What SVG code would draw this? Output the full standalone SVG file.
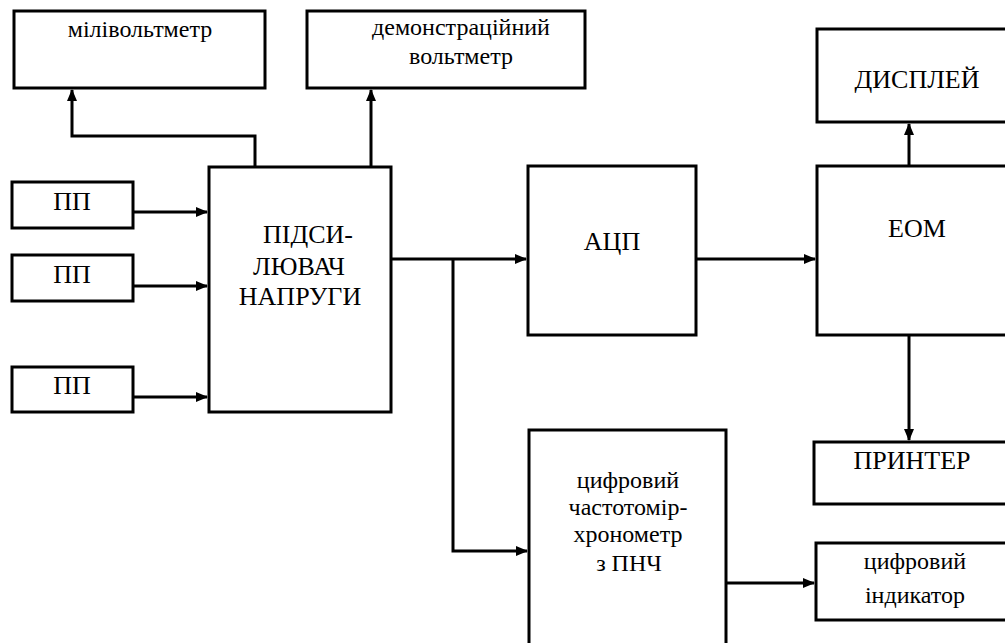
<svg xmlns="http://www.w3.org/2000/svg" width="1005" height="643" viewBox="0 0 1005 643">
<style>
.box{fill:#fff;stroke:#000;stroke-width:3}
.t{font-family:'Liberation Serif','Times New Roman',serif;font-size:24px;fill:#000;text-anchor:middle}
.u{font-size:26px}
.c{fill:none;stroke:#000;stroke-width:3}
</style>
<defs>
<marker id="ah" markerWidth="12" markerHeight="10" refX="11" refY="5" orient="auto" markerUnits="userSpaceOnUse">
<path d="M0,0 L12,5 L0,10 Z" fill="#000"/>
</marker>
</defs>
<rect width="1005" height="643" fill="#fff"/>
<g id="connectors">
<path class="c" d="M255,166 V136 H72 V90" marker-end="url(#ah)"/>
<path class="c" d="M371,166 V90" marker-end="url(#ah)"/>
<path class="c" d="M133,212 H207" marker-end="url(#ah)"/>
<path class="c" d="M133,286 H207" marker-end="url(#ah)"/>
<path class="c" d="M133,397 H207" marker-end="url(#ah)"/>
<path class="c" d="M391,259 H526" marker-end="url(#ah)"/>
<path class="c" d="M453,259 V551 H527" marker-end="url(#ah)"/>
<path class="c" d="M696,259 H815" marker-end="url(#ah)"/>
<path class="c" d="M909,166 V124" marker-end="url(#ah)"/>
<path class="c" d="M909,335 V440" marker-end="url(#ah)"/>
<path class="c" d="M726,583 H814" marker-end="url(#ah)"/>
</g>
<g id="milivoltmeter"><rect class="box" x="14" y="11" width="251" height="77"/><text class="t" x="140" y="37">мілівольтметр</text></g>
<g id="demo-voltmeter"><rect class="box" x="307" y="11" width="278" height="77"/><text class="t" x="461" y="35">демонстраційний</text><text class="t" x="461" y="64">вольтметр</text></g>
<g id="pp1"><rect class="box" x="12" y="182" width="121" height="46"/><text class="t u" x="72" y="210">ПП</text></g>
<g id="pp2"><rect class="box" x="12" y="255" width="121" height="46"/><text class="t u" x="72" y="283">ПП</text></g>
<g id="pp3"><rect class="box" x="12" y="367" width="121" height="45"/><text class="t u" x="72" y="394">ПП</text></g>
<g id="amplifier"><rect class="box" x="209" y="167" width="182" height="245"/><text class="t u" x="308" y="243">ПІДСИ-</text><text class="t u" x="299" y="275">ЛЮВАЧ</text><text class="t u" x="300" y="305">НАПРУГИ</text></g>
<g id="adc"><rect class="box" x="528" y="166" width="168" height="169"/><text class="t u" x="612" y="250">АЦП</text></g>
<g id="display"><rect class="box" x="817" y="29" width="200" height="93"/><text class="t u" x="917" y="88">ДИСПЛЕЙ</text></g>
<g id="eom"><rect class="box" x="817" y="166" width="200" height="169"/><text class="t u" x="917" y="237">ЕОМ</text></g>
<g id="printer"><rect class="box" x="814" y="442" width="200" height="62"/><text class="t u" x="912" y="469">ПРИНТЕР</text></g>
<g id="freq-meter"><rect class="box" x="529" y="430" width="197" height="230"/><text class="t" x="628" y="488">цифровий</text><text class="t" x="628" y="515">частотомір-</text><text class="t" x="628" y="542">хронометр</text><text class="t" x="629" y="571">з ПНЧ</text></g>
<g id="indicator"><rect class="box" x="816" y="543" width="200" height="77"/><text class="t" x="915" y="569">цифровий</text><text class="t" x="915" y="603">індикатор</text></g>
</svg>
